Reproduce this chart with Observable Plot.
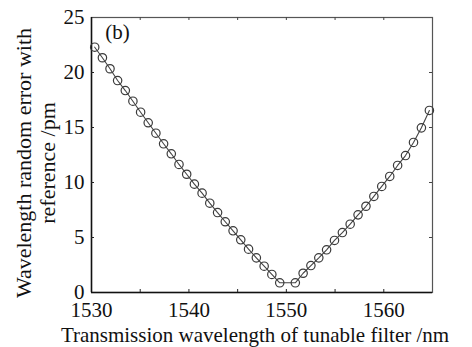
<!DOCTYPE html>
<html><head><meta charset="utf-8">
<script src="https://cdn.jsdelivr.net/npm/d3@7"></script>
<script src="https://cdn.jsdelivr.net/npm/@observablehq/plot@0.6"></script>
<style>
body{margin:0;background:#fff}
svg{display:block}
</style>
</head><body><div id="chart"></div>
<script>
const wavelengths = [1530.33, 1531.12, 1531.90, 1532.68, 1533.47, 1534.25, 1535.04, 1535.82, 1536.61, 1537.40,
  1538.19, 1538.98, 1539.77, 1540.56, 1541.35, 1542.14, 1542.94, 1543.73, 1544.53, 1545.32,
  1546.12, 1546.92, 1547.72, 1548.51, 1549.32, 1550.92, 1551.72, 1552.52, 1553.33, 1554.13,
  1554.94, 1555.75, 1556.55, 1557.36, 1558.17, 1558.98, 1559.79, 1560.61, 1561.42, 1562.23,
  1563.05, 1563.86, 1564.68];
const errors = [22.30, 21.34, 20.34, 19.27, 18.36, 17.39, 16.39, 15.43, 14.48, 13.52,
  12.61, 11.64, 10.75, 9.85, 9.03, 8.12, 7.27, 6.43, 5.61, 4.79,
  3.94, 3.15, 2.39, 1.64, 0.88, 0.88, 1.75, 2.45, 3.15, 3.88,
  4.73, 5.45, 6.21, 7.06, 7.84, 8.73, 9.64, 10.55, 11.55, 12.45,
  13.64, 14.97, 16.55];
const xTickLabels = [1530, 1540, 1550, 1560];
const xTickMarks = [1535, 1540, 1545, 1550, 1555, 1560];
const yTicks = [0, 5, 10, 15, 20, 25];
const yTickMarks = [5, 10, 15, 20];
const xTitle = "Transmission wavelength of tunable filter /nm";
const yTitle = "Wavelength random error with\nreference /pm";
const panelLabel = "(b)";

const data = wavelengths.map((w, i) => ({w, e: errors[i]}));

const W = 472, H = 347;
const mL = 91, mR = 40, mT = 17, mB = 55;
const fw = W - mL - mR, fh = H - mT - mB;
const font = "Liberation Serif";
const ink = "#3a3a3a";

const chart = Plot.plot({
  width: W, height: H,
  marginLeft: mL, marginRight: mR, marginTop: mT, marginBottom: mB,
  style: {fontFamily: font, fontSize: "21px", color: "#111", background: "#fff"},
  x: {domain: [1530, 1565]},
  y: {domain: [0, 25]},
  marks: [
    Plot.frame({stroke: "#555", strokeWidth: 1.2}),
    Plot.ruleX([1530], {stroke: "#111", strokeWidth: 1.5}),
    Plot.ruleY([0], {stroke: "#111", strokeWidth: 1.5}),
    Plot.ruleX(xTickMarks, {insetTop: fh - 3, stroke: "#222"}),
    Plot.ruleX(xTickMarks, {insetBottom: fh - 3, stroke: "#444"}),
    Plot.ruleY(yTickMarks, {insetRight: fw - 3, stroke: "#222"}),
    Plot.ruleY(yTickMarks, {insetLeft: fw - 3, stroke: "#444"}),
    Plot.axisX(xTickLabels, {tickSize: 0, tickPadding: 10, label: null, fontSize: 21, tickFormat: d => String(d)}),
    Plot.axisY(yTicks, {tickSize: 0, tickPadding: 7, label: null, fontSize: 21}),
    Plot.line(data, {x: "w", y: "e", stroke: "#444", strokeWidth: 1.1}),
    Plot.dot(data, {x: "w", y: "e", r: 4.2, stroke: ink, strokeWidth: 1.2, fill: "none"}),
    Plot.text([panelLabel], {frameAnchor: "top-left", dx: 26, dy: 15, fontSize: 21, textAnchor: "middle", lineAnchor: "middle", fill: "#111"}),
    Plot.text([xTitle], {ariaLabel: "x-title", frameAnchor: "bottom", dx: -7, dy: 43, fontSize: 21, lineAnchor: "middle", fill: "#111"}),
    Plot.text([yTitle], {ariaLabel: "y-title", frameAnchor: "left", rotate: -90, dx: -56, dy: 8, fontSize: 22, lineHeight: 1.1, lineAnchor: "middle", textAnchor: "middle", fill: "#111"})
  ]
});
d3.select(chart).selectAll("text, tspan").attr("font-family", font).style("font-family", font);
d3.select(chart).selectAll('g[aria-label="x-title"] text').style("letter-spacing", "0.85px");
d3.select(chart).selectAll('g[aria-label="y-title"] text').style("letter-spacing", "0.6px");
document.getElementById("chart").appendChild(chart);
</script>
</body></html>
